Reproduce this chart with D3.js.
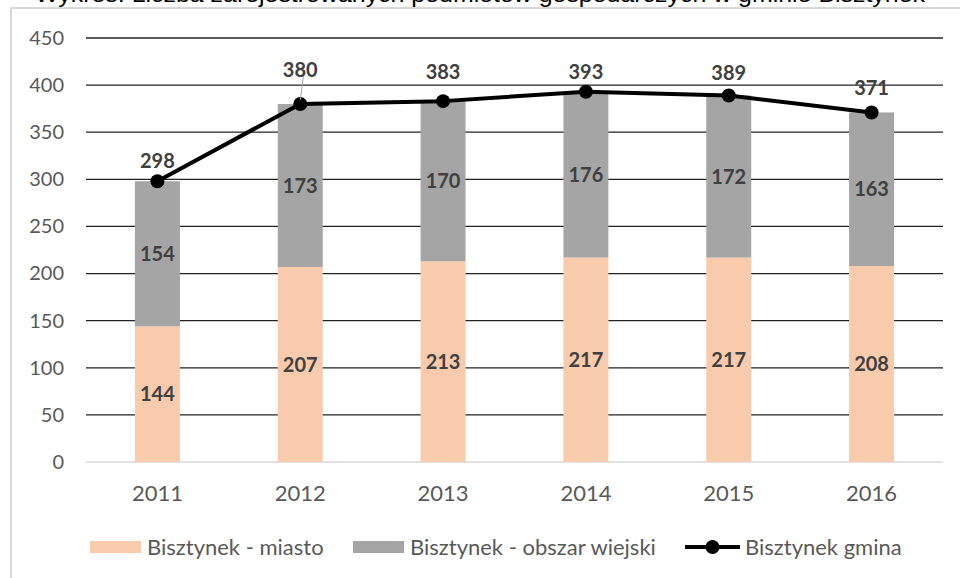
<!DOCTYPE html>
<html>
<head>
<meta charset="utf-8">
<script src="https://cdn.jsdelivr.net/npm/d3@7"></script>
<style>
  body { margin: 0; background: #fff; }
  svg { display: block; }
</style>
</head>
<body>
<div id="chart"></div>
<script>
// data
var years = ["2011", "2012", "2013", "2014", "2015", "2016"];
var miasto = [144, 207, 213, 217, 217, 208];
var wies = [154, 173, 170, 176, 172, 163];
var gmina = [298, 380, 383, 393, 389, 371];
var yTicks = [0, 50, 100, 150, 200, 250, 300, 350, 400, 450];
var seriesNames = ["Bisztynek - miasto", "Bisztynek - obszar wiejski", "Bisztynek gmina"];

// small label nudges (Excel moved some labels by hand)
var labelNudge = [0, -14, -9, 0, -3, -5];

var width = 960,
    height = 578;
var font = "Lato, 'Open Sans', sans-serif";

var svg = d3.select("#chart").append("svg")
    .attr("width", width)
    .attr("height", height)

// title, cut off at the top edge like in the source image
svg.append("text")
    .attr("x", 35)
    .attr("y", 2)
    .attr("textLength", 890)
    .attr("lengthAdjust", "spacingAndGlyphs")
    .attr("font-family", "'Liberation Sans', Arial, sans-serif")
    .attr("font-size", 22)
    .attr("fill", "#000")
    .text("Wykres: Liczba zarejestrowanych podmiotów gospodarczych w gminie Bisztynek")

// chart frame
svg.append("rect")
    .attr("x", 11)
    .attr("y", 8)
    .attr("width", 960)
    .attr("height", 600)
    .attr("fill", "#fff")
    .attr("stroke", "#d9d9d9")
    .attr("stroke-width", 2)

var x = d3.scaleBand()
    .domain(years)
    .range([86, 943])
    .paddingInner(0.685)
    .paddingOuter(0.3425)

var y = d3.scaleLinear()
    .domain([0, 450])
    .range([462, 38])

// gridlines
svg.append("g")
    .selectAll("line")
    .data(yTicks)
    .enter()
    .append("line")
    .attr("x1", 86)
    .attr("x2", 943)
    .attr("y1", function(d) { return y(d) })
    .attr("y2", function(d) { return y(d) })
    .attr("stroke", function(d) { return d === 0 ? "#d9d9d9" : "#222" })
    .attr("stroke-width", function(d) { return d === 0 ? 1.5 : 1.3 })

// y axis labels
var yAxis = d3.axisLeft(y).tickValues(yTicks).tickSize(0).tickPadding(0)
var yg = svg.append("g")
    .attr("transform", "translate(64,0)")
    .call(yAxis)
yg.select(".domain").remove()
yg.selectAll("text")
    .attr("font-family", font)
    .attr("font-size", 20)
    .attr("fill", "#595959")

// x axis labels
var xAxis = d3.axisBottom(x).tickSize(0).tickPadding(0)
var xg = svg.append("g")
    .attr("transform", "translate(0,485)")
    .call(xAxis)
xg.select(".domain").remove()
xg.selectAll("text")
    .attr("font-family", font)
    .attr("font-size", 22)
    .attr("fill", "#595959")

// stacked bars
var stackData = years.map(function(yr, i) {
    return { year: yr, miasto: miasto[i], wies: wies[i] }
})
var stack = d3.stack().keys(["miasto", "wies"])
var layers = stack(stackData)
var colors = { miasto: "#f8cbad", wies: "#a5a5a5" }

var layerG = svg.selectAll(".layer")
    .data(layers)
    .enter()
    .append("g")
    .attr("class", "layer")
    .attr("fill", function(d) { return colors[d.key] })

layerG.selectAll("rect")
    .data(function(d) { return d })
    .enter()
    .append("rect")
    .attr("x", function(d) { return x(d.data.year) })
    .attr("width", x.bandwidth())
    .attr("y", function(d) { return y(d[1]) })
    .attr("height", function(d) { return y(d[0]) - y(d[1]) })

layerG.selectAll("text")
    .data(function(d) { return d })
    .enter()
    .append("text")
    .attr("x", function(d) { return x(d.data.year) + x.bandwidth() / 2 })
    .attr("y", function(d) { return (y(d[0]) + y(d[1])) / 2 })
    .attr("dy", "0.36em")
    .attr("text-anchor", "middle")
    .attr("font-family", font)
    .attr("font-weight", "bold")
    .attr("font-size", 20)
    .attr("fill", "#404040")
    .text(function(d) { return d[1] - d[0] })

// total line
var line = d3.line()
    .x(function(d, i) { return x(years[i]) + x.bandwidth() / 2 })
    .y(function(d) { return y(d) })

svg.append("path")
    .datum(gmina)
    .attr("d", line)
    .attr("fill", "none")
    .attr("stroke", "#000")
    .attr("stroke-width", 4)
    .attr("stroke-linejoin", "round")

svg.selectAll(".dot")
    .data(gmina)
    .enter()
    .append("circle")
    .attr("class", "dot")
    .attr("cx", function(d, i) { return x(years[i]) + x.bandwidth() / 2 })
    .attr("cy", function(d) { return y(d) })
    .attr("r", 7)
    .attr("fill", "#000")

// leader lines for moved labels
svg.selectAll(".leader")
    .data(gmina.filter(function(d, i) { return labelNudge[i] < -10 }))
    .enter()
    .append("line")
    .attr("class", "leader")
    .each(function(d) {
        var i = gmina.indexOf(d)
        var cx = x(years[i]) + x.bandwidth() / 2
        d3.select(this)
            .attr("x1", cx + 4).attr("y1", y(d) - 25 + labelNudge[i] + 5)
            .attr("x2", cx).attr("y2", y(d) - 4)
    })
    .attr("stroke", "#a6a6a6")
    .attr("stroke-width", 1)

svg.selectAll(".tot")
    .data(gmina)
    .enter()
    .append("text")
    .attr("class", "tot")
    .attr("x", function(d, i) { return x(years[i]) + x.bandwidth() / 2 })
    .attr("y", function(d, i) { return y(d) - 20 + labelNudge[i] })
    .attr("dy", "0.36em")
    .attr("text-anchor", "middle")
    .attr("font-family", font)
    .attr("font-weight", "bold")
    .attr("font-size", 20)
    .attr("fill", "#404040")
    .text(function(d) { return d })

// legend
var legendY = 547
var legend = [
    { name: seriesNames[0], type: "rect", color: colors.miasto, x: 90 },
    { name: seriesNames[1], type: "rect", color: colors.wies, x: 353 },
    { name: seriesNames[2], type: "line", color: "#000", x: 685 }
]
var lg = svg.selectAll(".leg")
    .data(legend)
    .enter()
    .append("g")
    .attr("class", "leg")
    .attr("transform", function(d) { return "translate(" + d.x + "," + legendY + ")" })

lg.filter(function(d) { return d.type === "rect" })
    .append("rect")
    .attr("x", 0)
    .attr("y", -6)
    .attr("width", 51)
    .attr("height", 12)
    .attr("fill", function(d) { return d.color })

var lineLeg = lg.filter(function(d) { return d.type === "line" })
lineLeg.append("line")
    .attr("x1", 0).attr("x2", 55)
    .attr("y1", 0).attr("y2", 0)
    .attr("stroke", "#000")
    .attr("stroke-width", 4)
lineLeg.append("circle")
    .attr("cx", 27.5).attr("cy", 0).attr("r", 7)
    .attr("fill", "#000")

lg.append("text")
    .attr("x", function(d) { return d.type === "rect" ? 57 : 60 })
    .attr("y", 0)
    .attr("dy", "0.36em")
    .attr("font-family", font)
    .attr("font-size", 22)
    .attr("fill", "#595959")
    .text(function(d) { return d.name })
</script>
</body>
</html>
